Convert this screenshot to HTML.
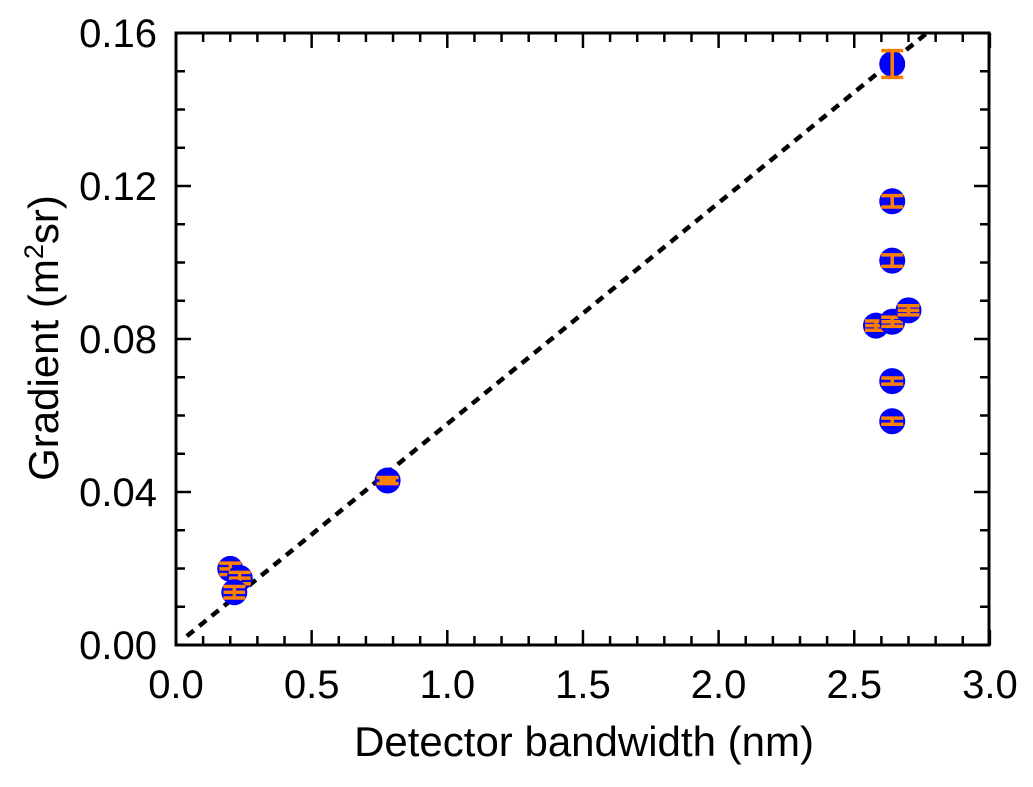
<!DOCTYPE html>
<html><head><meta charset="utf-8"><style>
body{margin:0;background:#fff;}
svg text{font-family:"Liberation Sans",Arial,sans-serif;fill:#000;}
</style></head><body>
<svg id="chart" width="1033" height="782" xmlns="http://www.w3.org/2000/svg">
<g id="axes"></g><g id="marks"></g>
</svg>
<script>
const xs=[2.64,2.64,2.64,2.58,2.64,2.70,2.64,2.64,0.78,0.20,0.235,0.215];
const ys=[0.1519,0.116,0.1005,0.0835,0.0845,0.0875,0.069,0.0585,0.043,0.0199,0.0175,0.0138];
const yerr=[0.0035,0.0015,0.0015,0.0012,0.0012,0.0012,0.0008,0.0008,0.0008,0.0015,0.0015,0.0015];
const xerr=[0,0,0,0.04,0.04,0.04,0,0,0.03,0.04,0.04,0.04];
const xTicks=[0,0.5,1,1.5,2,2.5,3];
const yTicks=[0,0.04,0.08,0.12,0.16];
const xTickLabels=["0.0","0.5","1.0","1.5","2.0","2.5","3.0"];
const yTickLabels=["0.00","0.04","0.08","0.12","0.16"];
const fitSlope=[0.0578];
const X=v=>176+v*271.3, Y=v=>645-v*3825;
const NS="http://www.w3.org/2000/svg";
function mk(p,tag,at){const e=document.createElementNS(NS,tag);for(const k in at)e.setAttribute(k,at[k]);p.appendChild(e);return e;}
const ax=document.getElementById('axes'), mg=document.getElementById('marks');
const fr=mk(ax,'rect',{x:176,y:33,width:813,height:612,fill:'none',stroke:'#000','stroke-width':3});


for(let i=0;i<=30;i++){const v=i/10,x=X(v),L=i%5==0?15:9;
 mk(ax,'line',{x1:x,y1:645,x2:x,y2:645-L,stroke:'#000','stroke-width':2.5});
 mk(ax,'line',{x1:x,y1:33,x2:x,y2:33+L,stroke:'#000','stroke-width':2.5});}
for(let i=0;i<=16;i++){const v=i/100,y=Y(v),L=i%4==0?15:9;
 mk(ax,'line',{x1:176,y1:y,x2:176+L,y2:y,stroke:'#000','stroke-width':2.5});
 mk(ax,'line',{x1:989,y1:y,x2:989-L,y2:y,stroke:'#000','stroke-width':2.5});}
xTicks.forEach((v,i)=>{const t=mk(ax,'text',{x:X(v),y:698,'font-size':40,'text-anchor':'middle'});t.textContent=xTickLabels[i];
 
 });
yTicks.forEach((v,i)=>{const t=mk(ax,'text',{x:157,y:Y(v)+14,'font-size':40,'text-anchor':'end'});t.textContent=yTickLabels[i];
 
 });
const xt=mk(ax,'text',{x:584,y:756,'font-size':42,'text-anchor':'middle'});xt.textContent='Detector bandwidth (nm)';


const yt=mk(ax,'text',{transform:'translate(58,338) rotate(-90)','font-size':42,'text-anchor':'middle'});
yt.innerHTML='Gradient (m<tspan dy="-15" font-size="27">2</tspan><tspan dy="15">sr)</tspan>';


const x1=0.04,x2=0.16/fitSlope[0];
const fl=mk(mg,'line',{x1:X(x1),y1:Y(x1*fitSlope[0]),x2:X(x2),y2:Y(0.16),stroke:'#000','stroke-width':4.5,'stroke-dasharray':'9,7'});


xs.forEach((v,i)=>{const cx=X(v),cy=Y(ys[i]);
 const c=mk(mg,'circle',{cx:cx,cy:cy,r:13,fill:'#0000ff'});
 
 
 const o={stroke:'#ff8000','stroke-width':3.5};
 const ya=Y(ys[i]+yerr[i]),yb=Y(ys[i]-yerr[i]);
 mk(mg,'line',Object.assign({x1:cx,y1:ya,x2:cx,y2:yb},o));
 mk(mg,'line',Object.assign({x1:cx-11,y1:ya,x2:cx+11,y2:ya},o));
 mk(mg,'line',Object.assign({x1:cx-11,y1:yb,x2:cx+11,y2:yb},o));
 if(xerr[i]>0){const xa=X(v-xerr[i]),xb=X(v+xerr[i]);
  mk(mg,'line',Object.assign({x1:xa,y1:cy,x2:xb,y2:cy},o));}
});
</script>
</body></html>
